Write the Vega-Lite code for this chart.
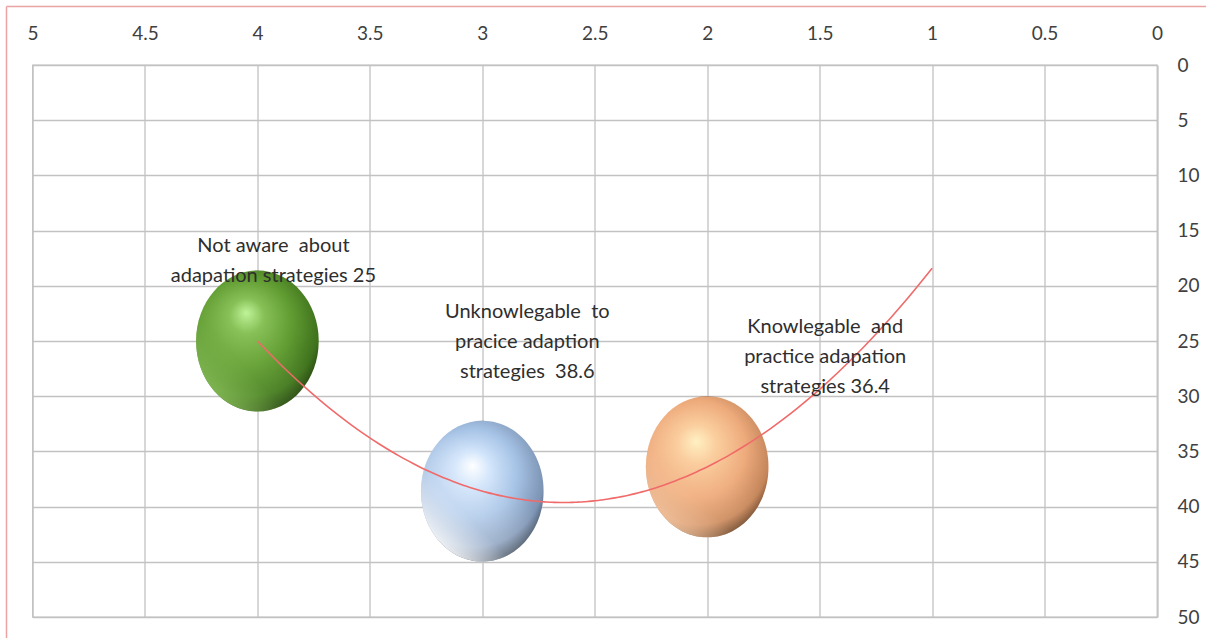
{
  "$schema": "https://vega.github.io/schema/vega-lite/v6.json",
  "autosize": {"type": "none"},
  "width": 1124.5,
  "height": 552,
  "padding": {"left": 32.5, "top": 65, "right": 49, "bottom": 21},
  "background": "#ffffff",
  "datasets": {
    "groups": [
      {"group": "Not aware about adapation strategies", "score": 4, "pct": 25, "label": "Not aware\u00a0 about\nadapation strategies 25"},
      {"group": "Unknowlegable to pracice adaption strategies", "score": 3, "pct": 38.6, "label": "Unknowlegable\u00a0 to\npracice adaption\nstrategies\u00a0 38.6"},
      {"group": "Knowlegable and practice adapation strategies", "score": 2, "pct": 36.4, "label": "Knowlegable\u00a0 and\npractice adapation\nstrategies 36.4"}
    ],
    "frame": [
      {"edge": "left", "fx": 5.1156, "fx2": 5.1156, "fy": -5.3, "fy2": 52},
      {"edge": "top", "fx": 5.1156, "fx2": -0.3, "fy": -5.3, "fy2": -5.3}
    ]
  },
  "data": {"name": "groups"},
  "encoding": {
    "x": {
      "field": "score",
      "type": "quantitative",
      "scale": {"domain": [0, 5], "reverse": true, "nice": false, "zero": false},
      "axis": {
        "orient": "top",
        "values": [0, 0.5, 1, 1.5, 2, 2.5, 3, 3.5, 4, 4.5, 5],
        "format": "~g",
        "title": null,
        "domain": false,
        "ticks": false,
        "tickSize": 0,
        "labelPadding": 32,
        "labelBaseline": "middle",
        "labelAlign": "center",
        "labelFont": "Lato",
        "labelFontSize": 19,
        "labelColor": "#404040",
        "labelFlush": false,
        "labelOverlap": false,
        "grid": true,
        "gridColor": "#c2c2c2",
        "gridWidth": 1.3
      }
    },
    "y": {
      "field": "pct",
      "type": "quantitative",
      "scale": {"domain": [0, 50], "reverse": true, "nice": false, "zero": false},
      "axis": {
        "orient": "right",
        "values": [0, 5, 10, 15, 20, 25, 30, 35, 40, 45, 50],
        "format": "~g",
        "title": null,
        "domain": false,
        "ticks": false,
        "tickSize": 0,
        "labelPadding": 20,
        "labelAlign": "left",
        "labelBaseline": "middle",
        "labelFont": "Lato",
        "labelFontSize": 19,
        "labelColor": "#404040",
        "labelFlush": false,
        "labelOverlap": false,
        "grid": true,
        "gridColor": "#c2c2c2",
        "gridWidth": 1.3
      }
    }
  },
  "layer": [
    {
      "transform": [{"filter": "datum.score === 4"}],
      "mark": {
        "type": "point", "filled": true, "opacity": 1, "strokeWidth": 0, "size": 19881,
        "shape": "M -0.87 0 A 0.87 1 0 1 1 0.87 0 A 0.87 1 0 1 1 -0.87 0 Z",
        "fill": {
          "gradient": "radial",
          "x1": 0.42, "y1": 0.3, "r1": 0,
          "x2": 0.44, "y2": 0.42, "r2": 0.62,
          "stops": [
            {"offset": 0, "color": "#c4f79e"},
            {"offset": 0.2, "color": "#86c056"},
            {"offset": 0.52, "color": "#5f9a31"},
            {"offset": 0.8, "color": "#3f721d"},
            {"offset": 1, "color": "#122806"}
          ]
        }
      }
    },
    {
      "transform": [{"filter": "datum.score === 4"}],
      "mark": {
        "type": "point", "filled": true, "opacity": 1, "strokeWidth": 0, "size": 19881,
        "shape": "M -0.87 0 A 0.87 1 0 1 1 0.87 0 A 0.87 1 0 1 1 -0.87 0 Z",
        "fill": {
          "gradient": "linear",
          "x1": 0.75, "y1": 0.45, "x2": 0.25, "y2": 1,
          "stops": [
            {"offset": 0, "color": "rgba(140,196,90,0)"},
            {"offset": 0.55, "color": "rgba(140,196,90,0.25)"},
            {"offset": 1, "color": "rgba(150,206,100,0.8)"}
          ]
        }
      }
    },
    {
      "transform": [{"filter": "datum.score === 3"}],
      "mark": {
        "type": "point", "filled": true, "opacity": 1, "strokeWidth": 0, "size": 19881,
        "shape": "M -0.87 0 A 0.87 1 0 1 1 0.87 0 A 0.87 1 0 1 1 -0.87 0 Z",
        "fill": {
          "gradient": "radial",
          "x1": 0.43, "y1": 0.32, "r1": 0,
          "x2": 0.44, "y2": 0.42, "r2": 0.62,
          "stops": [
            {"offset": 0, "color": "#ffffff"},
            {"offset": 0.2, "color": "#d2e5fb"},
            {"offset": 0.5, "color": "#a6c3e6"},
            {"offset": 0.8, "color": "#7d94b4"},
            {"offset": 1, "color": "#1e2833"}
          ]
        }
      }
    },
    {
      "transform": [{"filter": "datum.score === 3"}],
      "mark": {
        "type": "point", "filled": true, "opacity": 1, "strokeWidth": 0, "size": 19881,
        "shape": "M -0.87 0 A 0.87 1 0 1 1 0.87 0 A 0.87 1 0 1 1 -0.87 0 Z",
        "fill": {
          "gradient": "linear",
          "x1": 0.75, "y1": 0.45, "x2": 0.25, "y2": 1,
          "stops": [
            {"offset": 0, "color": "rgba(255,255,255,0)"},
            {"offset": 0.55, "color": "rgba(240,246,255,0.3)"},
            {"offset": 1, "color": "rgba(255,255,255,0.95)"}
          ]
        }
      }
    },
    {
      "transform": [{"filter": "datum.score === 2"}],
      "mark": {
        "type": "point", "filled": true, "opacity": 1, "strokeWidth": 0, "size": 19881,
        "shape": "M -0.87 0 A 0.87 1 0 1 1 0.87 0 A 0.87 1 0 1 1 -0.87 0 Z",
        "fill": {
          "gradient": "radial",
          "x1": 0.42, "y1": 0.32, "r1": 0,
          "x2": 0.44, "y2": 0.42, "r2": 0.62,
          "stops": [
            {"offset": 0, "color": "#fff4c6"},
            {"offset": 0.22, "color": "#fbcf9f"},
            {"offset": 0.55, "color": "#eeab7c"},
            {"offset": 0.82, "color": "#c4855a"},
            {"offset": 1, "color": "#3f2410"}
          ]
        }
      }
    },
    {
      "transform": [{"filter": "datum.score === 2"}],
      "mark": {
        "type": "point", "filled": true, "opacity": 1, "strokeWidth": 0, "size": 19881,
        "shape": "M -0.87 0 A 0.87 1 0 1 1 0.87 0 A 0.87 1 0 1 1 -0.87 0 Z",
        "fill": {
          "gradient": "linear",
          "x1": 0.75, "y1": 0.45, "x2": 0.25, "y2": 1,
          "stops": [
            {"offset": 0, "color": "rgba(248,196,156,0)"},
            {"offset": 0.55, "color": "rgba(248,196,156,0.25)"},
            {"offset": 1, "color": "rgba(252,210,175,0.8)"}
          ]
        }
      }
    },
    {
      "transform": [
        {"regression": "pct", "on": "score", "method": "poly", "order": 2, "extent": [1, 4]}
      ],
      "mark": {"type": "line", "color": "#f06a6a", "strokeWidth": 1.6, "interpolate": "monotone"}
    },
    {
      "transform": [{"filter": "datum.score === 4"}],
      "mark": {"type": "text", "font": "Lato", "fontSize": 20, "color": "#2e2e2e", "lineBreak": "\n", "lineHeight": 30, "align": "center", "baseline": "middle", "dx": 16, "dy": -95.5},
      "encoding": {"text": {"field": "label"}}
    },
    {
      "transform": [{"filter": "datum.score === 3"}],
      "mark": {"type": "text", "font": "Lato", "fontSize": 20, "color": "#2e2e2e", "lineBreak": "\n", "lineHeight": 30, "align": "center", "baseline": "middle", "dx": 45, "dy": -179},
      "encoding": {"text": {"field": "label"}}
    },
    {
      "transform": [{"filter": "datum.score === 2"}],
      "mark": {"type": "text", "font": "Lato", "fontSize": 20, "color": "#2e2e2e", "lineBreak": "\n", "lineHeight": 30, "align": "center", "baseline": "middle", "dx": 118, "dy": -139.5},
      "encoding": {"text": {"field": "label"}}
    },
    {
      "data": {"name": "frame"},
      "mark": {"type": "rule", "color": "#e9a3a3", "strokeWidth": 1.5, "clip": false},
      "encoding": {
        "x": {"field": "fx", "type": "quantitative"},
        "x2": {"field": "fx2"},
        "y": {"field": "fy", "type": "quantitative"},
        "y2": {"field": "fy2"}
      }
    }
  ],
  "config": {
    "view": {"stroke": "#c2c2c2", "strokeWidth": 1.3},
    "style": {"guide-label": {"font": "Lato"}}
  }
}
